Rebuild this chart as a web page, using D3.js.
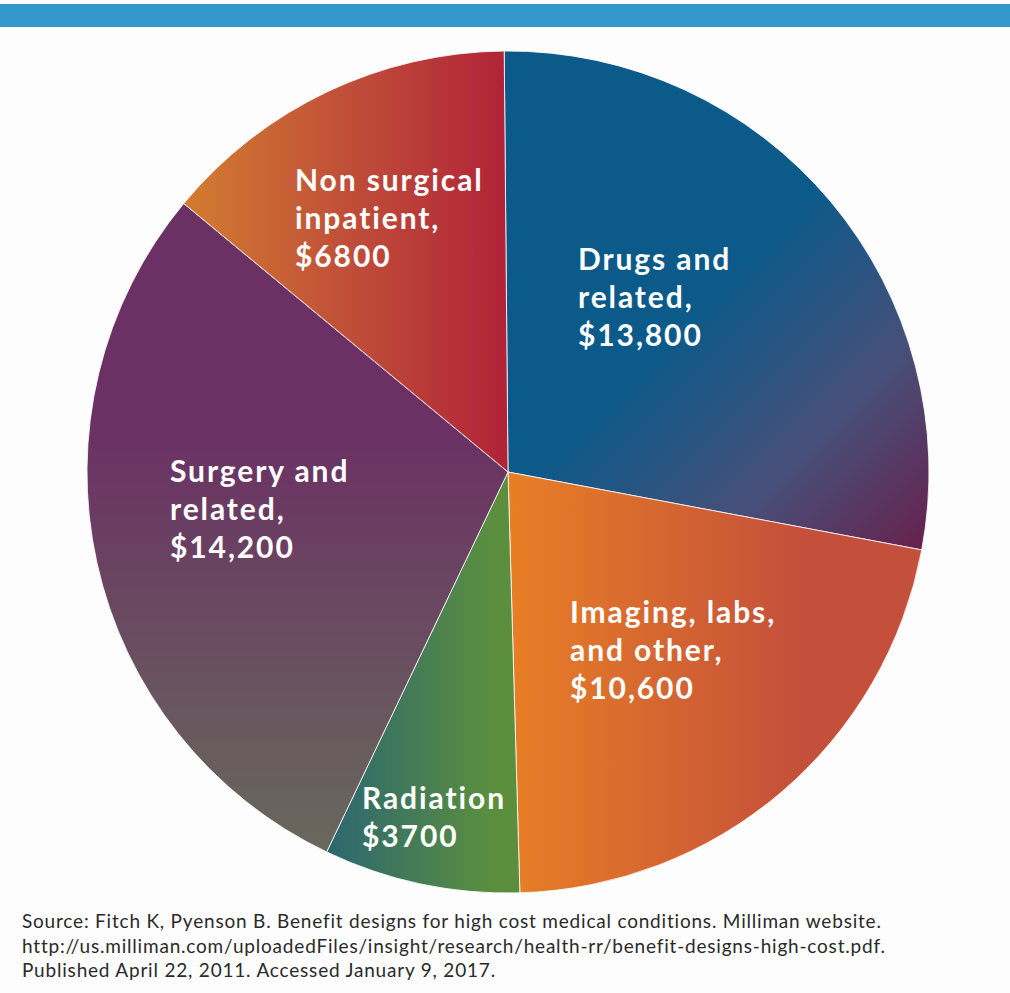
<!DOCTYPE html>
<html>
<head>
<meta charset="utf-8">
<script src="https://cdn.jsdelivr.net/npm/d3@7"></script>
<style>
  html, body { margin: 0; padding: 0; background: #fdfdfd; }
  svg { display: block; }
</style>
</head>
<body>
<svg id="chart" width="1010" height="993"></svg>
<script>
// ---- data ----
const categories = ["Drugs and related", "Imaging, labs, and other", "Radiation", "Surgery and related", "Non surgical inpatient"];
const values = [13800, 10600, 3700, 14200, 6800];
const labelLines = [
  ["Drugs and", "related,", "$13,800"],
  ["Imaging, labs,", "and other,", "$10,600"],
  ["Radiation", "$3700"],
  ["Surgery and", "related,", "$14,200"],
  ["Non surgical", "inpatient,", "$6800"]
];
const sourceLines = [
  "Source: Fitch K, Pyenson B. Benefit designs for high cost medical conditions. Milliman website.",
  "http://us.milliman.com/uploadedFiles/insight/research/health-rr/benefit-designs-high-cost.pdf.",
  "Published April 22, 2011. Accessed January 9, 2017."
];

// ---- layout ----
const W = 1010, H = 993;
const cx = 508, cy = 472, R = 421;

const svg = d3.select("#chart");
svg.append("rect").attr("width", W).attr("height", H).attr("fill", "#fdfdfd");
svg.append("rect").attr("x", 0).attr("y", 4).attr("width", W).attr("height", 23).attr("fill", "#3399cc");

// gradients (coordinates relative to pie centre)
const gradDefs = [
  { x1: 142, y1: -122, x2: 392, y2: 128, stops: [[0, "#0b5a8a"], [0.5, "#46507a"], [1, "#6a1c47"]] },
  { x1: 0, y1: 0, x2: 290, y2: 0, stops: [[0, "#e87f25"], [1, "#c4503b"]] },
  { x1: -175, y1: 0, x2: -15, y2: 0, stops: [[0, "#2e686f"], [1, "#5b8f3e"]] },
  { x1: 0, y1: -40, x2: 0, y2: 390, stops: [[0, "#6b3164"], [1, "#686a5c"]] },
  { x1: -320, y1: 0, x2: -5, y2: 0, stops: [[0, "#d27b30"], [0.5, "#c04f39"], [1, "#b12438"]] }
];
const defs = svg.append("defs");
gradDefs.forEach((g, i) => {
  const lg = defs.append("linearGradient")
    .attr("id", "g" + i)
    .attr("gradientUnits", "userSpaceOnUse")
    .attr("x1", g.x1).attr("y1", g.y1).attr("x2", g.x2).attr("y2", g.y2);
  g.stops.forEach(s => lg.append("stop").attr("offset", s[0]).attr("stop-color", s[1]));
});

const startA = -0.009;
const pie = d3.pie().sort(null).value(d => d).startAngle(startA).endAngle(startA + 2 * Math.PI);
const arc = d3.arc().innerRadius(0).outerRadius(R);
const arcs = pie(values);

const g = svg.append("g").attr("transform", `translate(${cx},${cy})`);
g.selectAll("path.slice")
  .data(arcs)
  .join("path")
  .attr("class", "slice")
  .attr("d", arc)
  .attr("fill", (d, i) => `url(#g${i})`)
  .attr("stroke", "#ffffff")
  .attr("stroke-width", 0.8)
  .attr("stroke-linejoin", "round");

// label anchor points (left x, first baseline y) in page coordinates
const labelPos = [[578, 270], [570, 623], [362, 809], [170, 482], [295, 191]];
const lineH = 38;
const labels = svg.append("g")
  .attr("font-family", "Lato, 'Open Sans', sans-serif")
  .attr("font-weight", 700)
  .attr("font-size", 30)
  .attr("letter-spacing", 1.9)
  .attr("fill", "#ffffff");
labelLines.forEach((lines, i) => {
  const t = labels.append("text").attr("x", labelPos[i][0]).attr("y", labelPos[i][1]);
  lines.forEach((ln, j) => {
    t.append("tspan").attr("x", labelPos[i][0]).attr("dy", j === 0 ? 0 : lineH).text(ln);
  });
});

// source note
const src = svg.append("g")
  .attr("font-family", "Lato, 'Open Sans', sans-serif")
  .attr("font-size", 19)
  .attr("letter-spacing", 0.8)
  .attr("fill", "#2a2a2a");
sourceLines.forEach((ln, i) => {
  src.append("text").attr("x", 22).attr("y", 928 + i * 24.5).text(ln);
});
</script>
</body>
</html>
